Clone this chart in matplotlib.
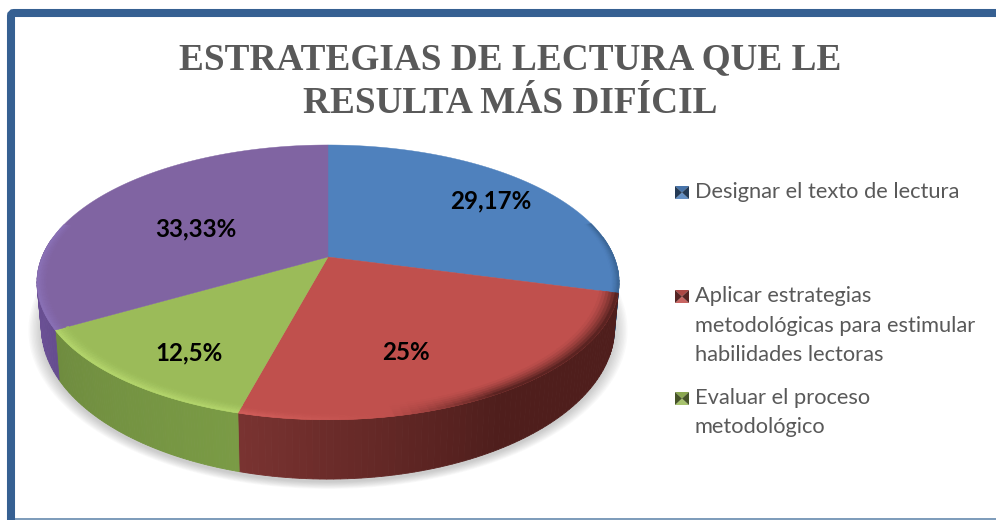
import numpy as np
import matplotlib
matplotlib.use('Agg')
import matplotlib.pyplot as plt
from matplotlib.colors import to_rgb
from matplotlib.patches import FancyBboxPatch, Rectangle

# chart data
title_lines = ['ESTRATEGIAS DE LECTURA QUE LE', 'RESULTA MÁS DIFÍCIL']
values = [29.17, 25, 12.5, 33.33]
value_labels = ['29,17%', '25%', '12,5%', '33,33%']
colors = ['#4f81bd', '#c0504d', '#9bbb59', '#8064a2']
legend_labels = [['Designar el texto de lectura'],
                 ['Aplicar estrategias', 'metodológicas para estimular', 'habilidades lectoras'],
                 ['Evaluar el proceso', 'metodológico']]

# pie geometry in pixels, the tilted disc is a perspective view of a circle
CX, CY = 328, 257
A, B, K = 286, 132.7, 0.1846

GREY = '#595959'

def project(r, theta):
  x = r * np.cos(theta)
  y = r * np.sin(theta)
  w = 1 + K * y
  return CX + A * x / w, CY - B * y / w

# bottom outline of the disc, a bit smaller than the top one
def project_low(theta):
  x, y = project(1.0, theta)
  return CX + 0.985 * (x - CX), 380 + 1.104 * (y - 330)

def mix(c1, c2, t):
  c1, c2 = np.array(to_rgb(c1)), np.array(to_rgb(c2))
  return tuple(c1 + (c2 - c1) * t)

# colour of the side wall at an angle in degrees
def side_color(i, deg):
  if i == 0:
    return '#2f5680'
  if i == 1:
    t = np.clip((deg + 105) / 45, 0, 1)
    return mix('#7a3331', '#4f1e1c', t)
  if i == 2:
    return mix('#6f8c3f', '#7a9b45', (deg + 150) / 45)
  return mix('#6c5196', '#5f4888', abs(deg + 165) / 30)

# bevel along the top edge: (target colour, strength, inner radius)
def rim_target(i, deg):
  if i == 2:
    return '#b8da70', 0.8, 0.955
  if i == 3:
    if -195 < deg < -150:
      return '#9079c4', 0.55, 0.965
    return '#8064a2', 0, 0.965
  if i == 1:
    if deg < -80:
      return '#e06a66', 0.55 * (-80 - deg) / 25, 0.965
    return '#5a2321', min(1, (deg + 80) / 20), 0.94
  if deg < 15:
    return '#2f5680', 0.6, 0.975
  return '#4f81bd', 0, 0.975

fig = plt.figure(figsize=(9.96, 5.2), dpi=100)
ax = fig.add_axes([0, 0, 1, 1])
ax.set_xlim(0, 996)
ax.set_ylim(520, 0)
ax.axis('off')

# frame
ax.add_patch(FancyBboxPatch((11, 13), 1100, 600, boxstyle='round,pad=0,rounding_size=3',
                            fc='white', ec='#366092', lw=5.8, zorder=0))
ax.add_patch(Rectangle((15, 518), 981, 2, fc='#7f9dbb', ec='none', zorder=1))

# angles, clockwise from the top
edges = 90 - np.concatenate([[0], np.cumsum(values)]) * 360 / sum(values)

# soft shadow under the disc
t = np.linspace(0, 2 * np.pi, 300)
sx, sy = project_low(t)
my = (sy.min() + sy.max()) / 2
for s in np.linspace(1.045, 1.0, 10):
  ax.fill(CX + (sx - CX) * s, my + 3 + (sy - my) * s, color='#707070', alpha=0.04, lw=0, zorder=2)

# side wall
for i in range(len(values)):
  steps = np.linspace(edges[i], edges[i + 1], 80)
  for d0, d1 in zip(steps[:-1], steps[1:]):
    deg = (d0 + d1) / 2
    if np.sin(np.radians(deg)) > 0.15:
      continue
    th = np.radians([d0, d1])
    x, y = project(1.0, th)
    lx, ly = project_low(th)
    ax.fill([x[0], x[1], lx[1], lx[0]], [y[0], y[1], ly[1], ly[0]],
            color=side_color(i, deg), lw=0.6, zorder=3)

# top surface
for i in range(len(values)):
  th = np.radians(np.linspace(edges[i], edges[i + 1], 120))
  x, y = project(1.0, th)
  ax.fill(np.r_[CX, x], np.r_[CY, y], color=colors[i], lw=0.3, zorder=4)

# bevel
for i in range(len(values)):
  steps = np.linspace(edges[i], edges[i + 1], 60)
  for d0, d1 in zip(steps[:-1], steps[1:]):
    deg = (d0 + d1) / 2
    target, strength, inner = rim_target(i, deg)
    if strength <= 0:
      continue
    th = np.radians([d0, d1])
    rings = np.linspace(inner, 1.0, 7)
    for j, (r0, r1) in enumerate(zip(rings[:-1], rings[1:])):
      w = (j + 1) / (len(rings) - 1)
      x0, y0 = project(r0, th)
      x1, y1 = project(r1, th)
      ax.fill([x0[0], x0[1], x1[1], x1[0]], [y0[0], y0[1], y1[1], y1[0]],
              color=mix(colors[i], target, strength * w ** 1.5), lw=0.4, zorder=5)

# value labels
label_pos = [(490.5, 208), (406, 360), (189, 360), (195.5, 236)]
for (lx, ly), lab in zip(label_pos, value_labels):
  ax.text(lx, ly, lab, ha='center', va='baseline', fontsize=17.4, fontweight='bold',
          family='Lato', color='black', zorder=6)

# title
for line, by in zip(title_lines, [69, 113]):
  ax.text(510, by, line, ha='center', va='baseline', fontsize=26.85, fontweight='bold',
          family='Liberation Serif', color=GREY, zorder=6)

# legend
legend_y = [[198], [302, 332, 361], [404, 433]]
for i, (lines, ys) in enumerate(zip(legend_labels, legend_y)):
  x0, x1 = 675, 689
  y1 = ys[0] + 1
  y0 = y1 - 13
  mx, my = (x0 + x1) / 2, (y0 + y1) / 2
  base = colors[i]
  ax.fill([x0, x1, mx], [y0, y0, my], color=mix(base, 'black', 0.1), lw=0, zorder=6)
  ax.fill([x0, x1, mx], [y1, y1, my], color=mix(base, 'white', 0.12), lw=0, zorder=6)
  ax.fill([x0, x0, mx], [y0, y1, my], color=mix(base, 'black', 0.55), lw=0, zorder=6)
  ax.fill([x1, x1, mx], [y0, y1, my], color=mix(base, 'black', 0.55), lw=0, zorder=6)
  for line, by in zip(lines, ys):
    ax.text(695, by, line, ha='left', va='baseline', fontsize=15.75, family='Lato',
            color=GREY, zorder=6)

fig.savefig('out.png', dpi=100)
plt.close('all')
